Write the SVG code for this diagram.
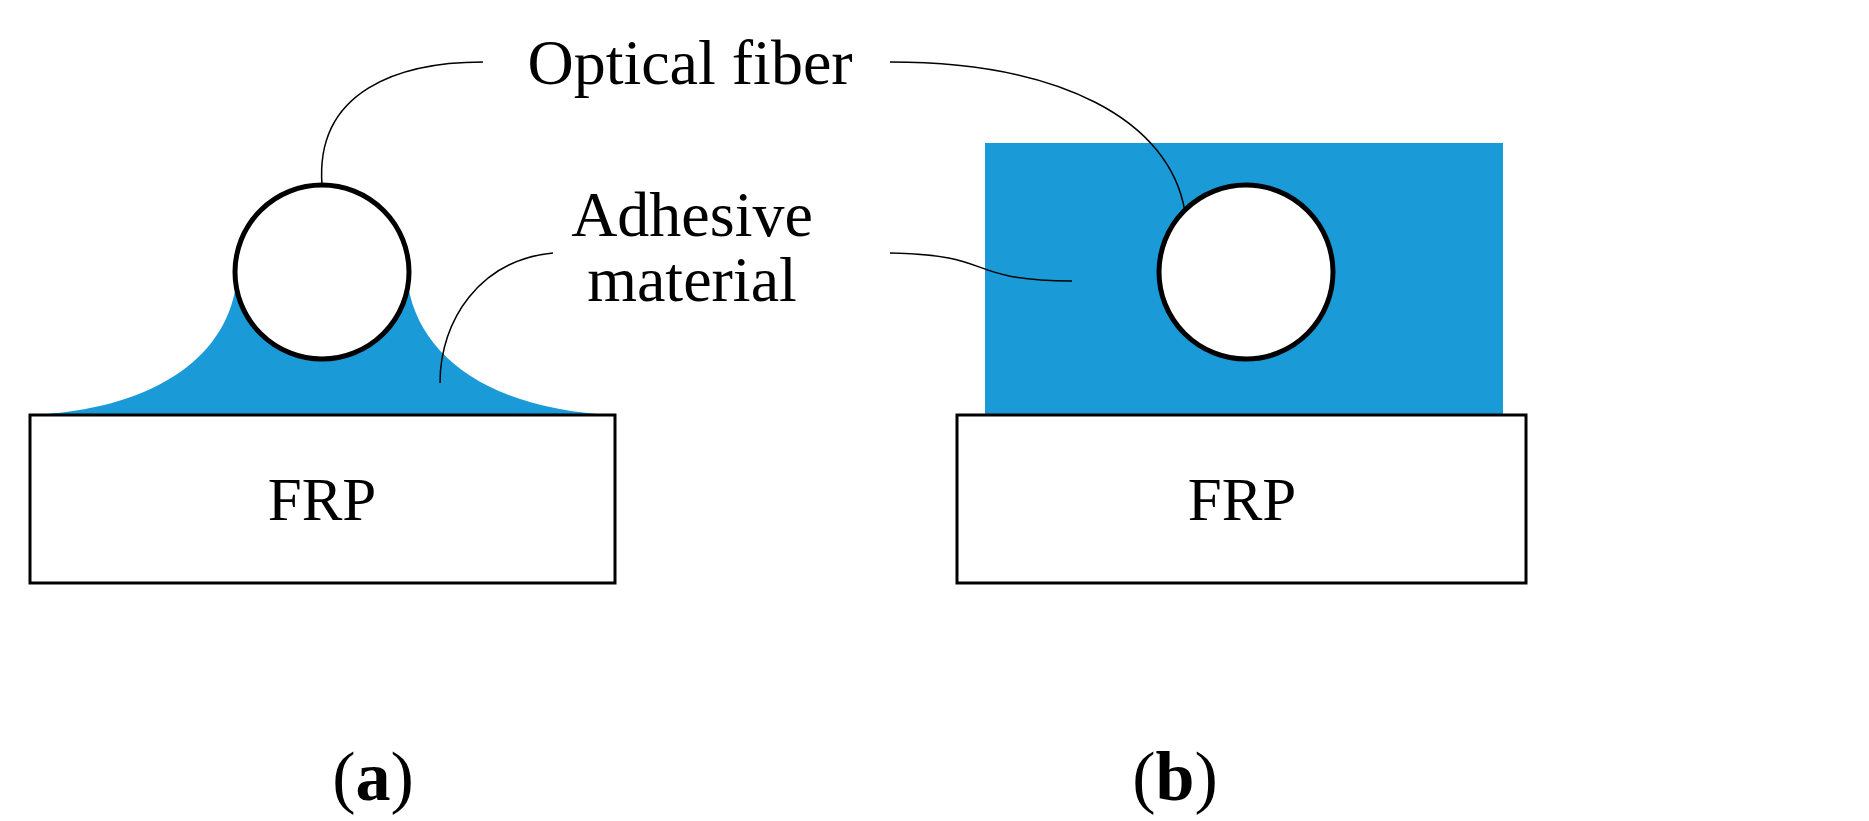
<svg xmlns="http://www.w3.org/2000/svg" width="1869" height="821" viewBox="0 0 1869 821">
<style>
.box{fill:#fff;stroke:#000;stroke-width:3}
.fib{fill:#fff;stroke:#000;stroke-width:5}
.lead{fill:none;stroke:#000;stroke-width:1.5}
.adh{fill:#1a9bd7}
text{font-family:"Liberation Serif",serif;fill:#000}
.lbl{font-size:64px;text-anchor:middle}
.frp{font-size:61px;text-anchor:middle}
.cap{font-size:70px;text-anchor:middle}
</style>
<rect width="1869" height="821" fill="#fff"/>
<g id="a-adhesive"><path class="adh" d="M30,415 C150,410 225,360 236,285 L408,285 C420,360 495,410 615,415 Z"/></g>
<g id="a-frp"><rect class="box" x="30" y="415" width="585" height="168"/><text class="frp" x="322" y="520">FRP</text></g>
<g id="a-fiber"><circle class="fib" cx="322" cy="272" r="87"/></g>
<g id="b-adhesive"><rect class="adh" x="985" y="143" width="518" height="272"/></g>
<g id="b-frp"><rect class="box" x="957" y="415" width="569" height="168"/><text class="frp" x="1242" y="520">FRP</text></g>
<g id="b-fiber"><circle class="fib" cx="1246" cy="272" r="87"/></g>
<g id="labels">
<text class="lbl" x="690" y="84">Optical fiber</text>
<text class="lbl" x="692" y="236">Adhesive</text>
<text class="lbl" x="692" y="301">material</text>
<text class="cap" x="373" y="800">(<tspan font-weight="bold">a</tspan>)</text>
<text class="cap" x="1175" y="800">(<tspan font-weight="bold">b</tspan>)</text>
</g>
<g id="connectors">
<path class="lead" d="M322,185 C315,90 400,62 483,62"/>
<path class="lead" d="M890,62 C1060,62 1170,120 1185,212"/>
<path class="lead" d="M553,253 C480,260 440,320 440,383"/>
<path class="lead" d="M890,253 C1000,255 960,280 1072,281"/>
</g>
</svg>
